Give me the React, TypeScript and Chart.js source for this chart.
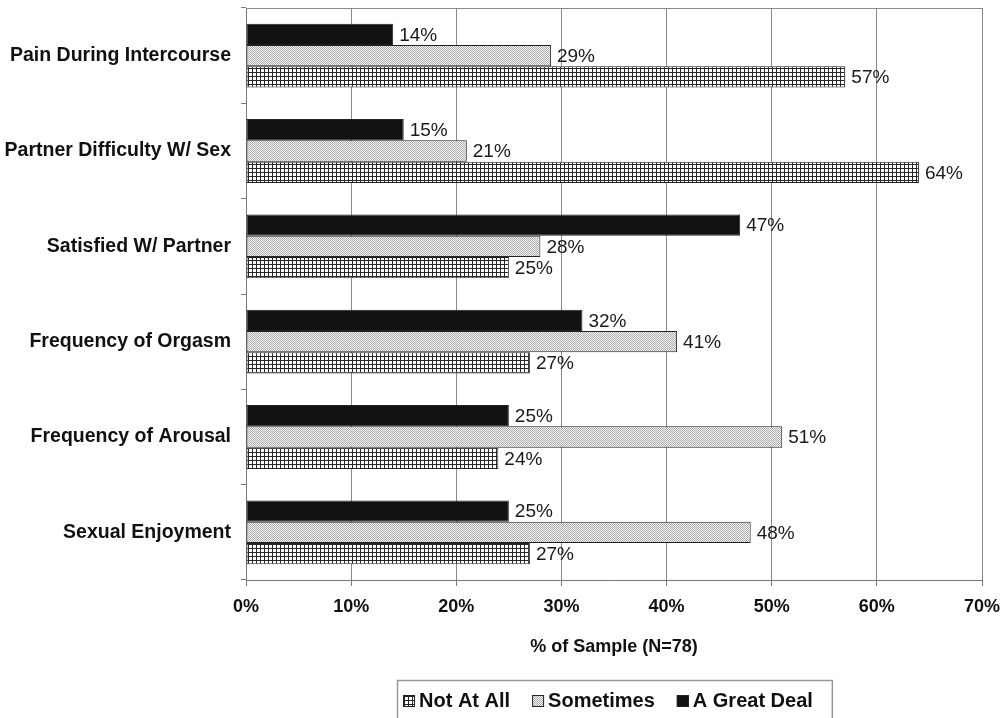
import React, { useEffect, useRef } from 'react';
import { Chart, registerables } from 'chart.js';

Chart.register(...registerables);

const categories = [
  'Pain During Intercourse',
  'Partner Difficulty W/ Sex',
  'Satisfied W/ Partner',
  'Frequency of Orgasm',
  'Frequency of Arousal',
  'Sexual Enjoyment',
];
const greatDeal = [14, 15, 47, 32, 25, 25];
const sometimes = [29, 21, 28, 41, 51, 48];
const notAtAll = [57, 64, 25, 27, 24, 27];
const xTicks = [0, 10, 20, 30, 40, 50, 60, 70];
const seriesNames = { notAtAll: 'Not At All', sometimes: 'Sometimes', greatDeal: 'A Great Deal' };
const axisTitle = '% of Sample (N=78)';

const FONT = '"Liberation Sans", Arial, Helvetica, sans-serif';

function makePattern(ctx: CanvasRenderingContext2D, kind: 'grid' | 'dots') {
  const c = document.createElement('canvas');
  if (kind === 'grid') {
    c.width = 4; c.height = 4;
    const g = c.getContext('2d')!;
    g.fillStyle = '#ffffff'; g.fillRect(0, 0, 4, 4);
    g.fillStyle = '#262626'; g.fillRect(0, 0, 4, 1); g.fillRect(0, 0, 1, 4);
  } else {
    c.width = 2; c.height = 2;
    const g = c.getContext('2d')!;
    g.fillStyle = '#f6f6f6'; g.fillRect(0, 0, 2, 2);
    g.fillStyle = '#ababab'; g.fillRect(0, 0, 1, 1); g.fillRect(1, 1, 1, 1);
  }
  return ctx.createPattern(c, 'repeat')!;
}

const valueLabels = {
  id: 'valueLabels',
  afterDatasetsDraw(chart: any) {
    const ctx = chart.ctx as CanvasRenderingContext2D;
    ctx.save();
    ctx.font = `19px ${FONT}`;
    ctx.fillStyle = '#1a1a1a';
    ctx.textAlign = 'left';
    ctx.textBaseline = 'middle';
    chart.data.datasets.forEach((ds: any, i: number) => {
      const meta = chart.getDatasetMeta(i);
      meta.data.forEach((bar: any, j: number) => {
        ctx.fillText(`${ds.data[j]}%`, bar.x + 6, bar.y + 1);
      });
    });
    ctx.restore();
  },
};

const frame = {
  id: 'frame',
  afterDraw(chart: any) {
    const { ctx, chartArea } = chart;
    ctx.save();
    ctx.strokeStyle = '#8a8a8a';
    ctx.lineWidth = 1;
    ctx.beginPath();
    ctx.moveTo(chartArea.left, Math.round(chartArea.top) + 0.5);
    ctx.lineTo(chartArea.right + 1, Math.round(chartArea.top) + 0.5);
    ctx.stroke();
    ctx.restore();
  },
};

const boxLegend = {
  id: 'boxLegend',
  afterDraw(chart: any) {
    const { ctx, chartArea } = chart;
    const items = [...chart.data.datasets].reverse();
    ctx.save();
    ctx.font = `bold 20px ${FONT}`;
    const box = 12, gapText = 4, gapItem = 22, padL = 6, padR = 19;
    const widths = items.map((d: any) => box + gapText + ctx.measureText(d.label).width);
    const total = widths.reduce((a: number, b: number) => a + b, 0) + gapItem * (items.length - 1);
    const outerW = total + padL + padR;
    const center = (chartArea.left + chartArea.right) / 2;
    const left = Math.round(center - outerW / 2);
    const top = 680;
    ctx.strokeStyle = '#999';
    ctx.lineWidth = 1.5;
    ctx.strokeRect(left + 0.5, top + 0.5, outerW, 60);
    let x = left + padL;
    const cy = 701;
    items.forEach((d: any, i: number) => {
      ctx.fillStyle = d.backgroundColor;
      ctx.fillRect(x, cy - box / 2, box, box);
      ctx.strokeStyle = '#222';
      ctx.lineWidth = 1;
      ctx.strokeRect(x + 0.5, cy - box / 2 + 0.5, box - 1, box - 1);
      ctx.fillStyle = '#111';
      ctx.textAlign = 'left';
      ctx.textBaseline = 'middle';
      ctx.fillText(d.label, x + box + gapText, cy);
      x += widths[i] + gapItem;
    });
    ctx.restore();
  },
};

export default function App() {
  const ref = useRef<HTMLCanvasElement | null>(null);
  useEffect(() => {
    const canvas = ref.current!;
    const ctx = canvas.getContext('2d')!;
    const gridPat = makePattern(ctx, 'grid');
    const dotPat = makePattern(ctx, 'dots');
    const common = {
      barPercentage: 1,
      categoryPercentage: 0.67,
      borderWidth: 1,
      borderColor: '#222',
      borderSkipped: false,
    };
    const chart = new Chart(canvas, {
      type: 'bar',
      data: {
        labels: categories,
        datasets: [
          { label: seriesNames.greatDeal, data: greatDeal, backgroundColor: '#111111', ...common },
          { label: seriesNames.sometimes, data: sometimes, backgroundColor: dotPat as any, ...common },
          { label: seriesNames.notAtAll, data: notAtAll, backgroundColor: gridPat as any, ...common },
        ],
      },
      options: {
        responsive: false,
        animation: false,
        indexAxis: 'y',
        layout: { padding: { top: 8, right: 25, left: 0, bottom: 0 } },
        plugins: {
          legend: { display: false },
          tooltip: { enabled: false },
        },
        scales: {
          x: {
            type: 'linear',
            position: 'bottom',
            min: 0,
            max: 70,
            afterBuildTicks: (s: any) => {
              s.ticks = xTicks.map((v) => ({ value: v }));
            },
            ticks: {
              callback: (v: any) => `${v}%`,
              color: '#111',
              font: { family: FONT, size: 18, weight: 'bold' },
              padding: 10,
              maxRotation: 0,
              autoSkip: false,
            },
            grid: { color: '#8a8a8a', lineWidth: 1, tickLength: 6, tickColor: '#777' },
            border: { color: '#777', width: 1 },
            title: {
              display: true,
              text: axisTitle,
              color: '#111',
              font: { family: FONT, size: 18, weight: 'bold' },
              padding: { top: 4, bottom: 60 },
            },
            afterFit: (s: any) => {
              s.height = 138;
              s.paddingLeft = 0;
              s.paddingRight = 0;
              s.paddingTop = 0;
              s.paddingBottom = 0;
            },
          },
          y: {
            type: 'category',
            offset: true,
            ticks: {
              color: '#111',
              font: { family: FONT, size: 19.5, weight: 'bold' },
              padding: 10,
              autoSkip: false,
            },
            grid: { drawOnChartArea: false, tickLength: 5, color: '#777' },
            border: { color: '#777', width: 1 },
            afterFit: (s: any) => {
              s.width = 246;
              s.paddingTop = 0;
              s.paddingBottom = 0;
              s.paddingLeft = 0;
              s.paddingRight = 0;
            },
          },
        },
      } as any,
      plugins: [valueLabels, frame, boxLegend],
    });
    return () => chart.destroy();
  }, []);
  return (
    <div style={{ position: 'absolute', left: 0, top: 0, width: 1007, height: 718, background: '#fff' }}>
      <canvas ref={ref} width={1007} height={718} style={{ display: 'block' }} />
    </div>
  );
}
